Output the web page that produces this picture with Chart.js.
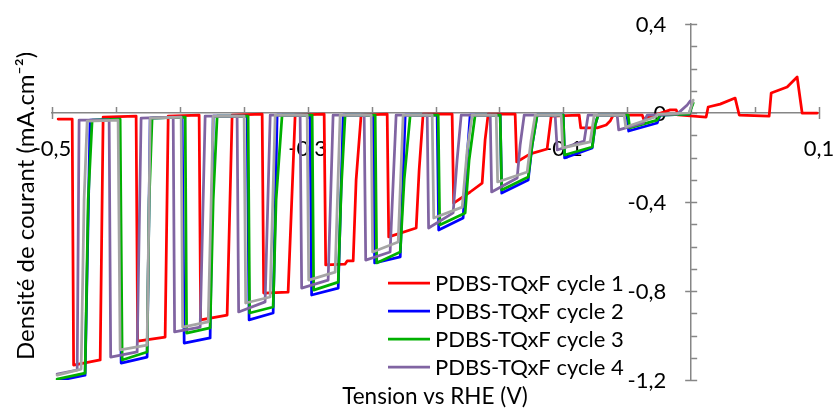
<!DOCTYPE html>
<html>
<head>
<meta charset="utf-8">
<script src="https://cdn.jsdelivr.net/npm/chart.js@4.4.1/dist/chart.umd.min.js"></script>
<style>
html,body{margin:0;padding:0;background:#ffffff;}
#wrap{position:relative;width:834px;height:412px;}
canvas{display:block;}
</style>
</head>
<body>
<div id="wrap"><canvas id="c" width="834" height="412"></canvas></div>
<script>
// ---------- data (potential in V vs RHE, current density in mA.cm-2) ----------
const seriesLabels = ['PDBS-TQxF cycle 1','PDBS-TQxF cycle 2','PDBS-TQxF cycle 3','PDBS-TQxF cycle 4',''];
const seriesColors = ['#FF0000','#0000FF','#00B000','#8064A2','#A5A5A5'];
const xTitle = 'Tension vs RHE (V)';
const yTitle = 'Densité de courant (mA.cm⁻²)';

const cycle1V = [-0.4952,-0.4842,-0.4831,-0.4623,-0.4600,-0.4342,-0.4330,-0.4115,-0.4091,-0.3849,-0.3837,-0.3630,-0.3591,-0.3356,-0.3344,-0.3153,-0.3098,-0.2871,-0.2859,-0.2707,-0.2691,-0.2644,-0.2621,-0.2582,-0.2378,-0.2366,-0.2151,-0.2128,-0.2097,-0.1870,-0.1858,-0.1729,-0.1635,-0.1612,-0.1588,-0.1377,-0.1365,-0.1259,-0.1127,-0.1095,-0.0876,-0.0864,-0.0735,-0.0665,-0.0634,-0.0610,-0.0383,-0.0372,-0.0164,-0.0117,-0.0102,0.0117,0.0133,0.0227,0.0344,0.0376,0.0610,0.0626,0.0751,0.0829,0.0868,0.0986];
const cycle1J = [-0.027,-0.027,-1.133,-1.110,-0.018,-0.014,-1.025,-1.007,-0.014,-0.009,-0.930,-0.908,-0.009,-0.005,-0.809,-0.805,-0.009,-0.005,-0.683,-0.679,-0.665,-0.665,-0.301,-0.009,-0.005,-0.557,-0.517,-0.256,-0.005,-0.005,-0.405,-0.355,-0.315,-0.121,-0.005,-0.005,-0.220,-0.184,-0.162,-0.014,-0.009,-0.067,-0.067,-0.054,-0.036,-0.009,-0.009,-0.027,0.014,0.014,-0.009,-0.018,0.027,0.040,0.067,-0.009,-0.014,0.090,0.117,0.162,0,0];

const cycle2V = [-0.4960,-0.4741,-0.4702,-0.4475,-0.4459,-0.4256,-0.4232,-0.3982,-0.3966,-0.3763,-0.3739,-0.3473,-0.3458,-0.3270,-0.3239,-0.2981,-0.2969,-0.2761,-0.2722,-0.2488,-0.2476,-0.2276,-0.2237,-0.1987,-0.1975,-0.1784,-0.1760,-0.1729,-0.1494,-0.1482,-0.1275,-0.1244,-0.1205,-0.1001,-0.0990,-0.0774,-0.0751,-0.0728,-0.0501,-0.0489,-0.0266,-0.0243,-0.0016,0.0008];
const cycle2J = [-1.204,-1.178,-0.032,-0.027,-1.124,-1.097,-0.023,-0.018,-1.034,-1.011,-0.014,-0.014,-0.930,-0.899,-0.009,-0.009,-0.818,-0.787,-0.009,-0.009,-0.674,-0.647,-0.009,-0.009,-0.526,-0.472,-0.256,-0.009,-0.009,-0.360,-0.301,-0.144,-0.009,-0.009,-0.202,-0.157,-0.054,-0.009,-0.009,-0.081,-0.045,-0.009,-0.005,0.040];

const cycle3V = [-0.4960,-0.4741,-0.4717,-0.4686,-0.4467,-0.4451,-0.4256,-0.4240,-0.4217,-0.3958,-0.3947,-0.3763,-0.3739,-0.3708,-0.3466,-0.3454,-0.3270,-0.3247,-0.3200,-0.2965,-0.2953,-0.2761,-0.2738,-0.2707,-0.2472,-0.2460,-0.2276,-0.2245,-0.2198,-0.1979,-0.1967,-0.1768,-0.1737,-0.1690,-0.1494,-0.1482,-0.1275,-0.1244,-0.1205,-0.1001,-0.0990,-0.0774,-0.0751,-0.0728,-0.0493,-0.0481,-0.0266,-0.0243,-0.0016,0.0016];
const cycle3J = [-1.196,-1.169,-0.391,-0.032,-0.027,-1.110,-1.074,-0.391,-0.023,-0.018,-0.989,-0.966,-0.391,-0.014,-0.014,-0.899,-0.872,-0.391,-0.009,-0.009,-0.796,-0.760,-0.346,-0.009,-0.009,-0.674,-0.625,-0.301,-0.009,-0.009,-0.503,-0.449,-0.211,-0.009,-0.009,-0.346,-0.288,-0.144,-0.009,-0.009,-0.189,-0.153,-0.054,-0.009,-0.009,-0.067,-0.032,-0.009,-0.005,0.045];

const cycle4V = [-0.4960,-0.4803,-0.4788,-0.4553,-0.4541,-0.4334,-0.4303,-0.4052,-0.4041,-0.3841,-0.3802,-0.3552,-0.3540,-0.3333,-0.3293,-0.3059,-0.3047,-0.2840,-0.2801,-0.2558,-0.2546,-0.2355,-0.2308,-0.2065,-0.2054,-0.1862,-0.1831,-0.1799,-0.1572,-0.1561,-0.1361,-0.1338,-0.1306,-0.1064,-0.1048,-0.0837,-0.0806,-0.0579,-0.0567,-0.0376,-0.0344,-0.0110,-0.0031,-0.0008];
const cycle4J = [-1.173,-1.155,-0.032,-0.032,-1.097,-1.074,-0.023,-0.018,-0.984,-0.962,-0.014,-0.014,-0.894,-0.849,-0.009,-0.009,-0.787,-0.751,-0.009,-0.009,-0.661,-0.625,-0.009,-0.009,-0.517,-0.449,-0.211,-0.009,-0.009,-0.355,-0.292,-0.144,-0.009,-0.009,-0.166,-0.126,-0.009,-0.009,-0.076,-0.045,-0.009,-0.005,0.036,0.054];

const cycle5V = [-0.4960,-0.4772,-0.4749,-0.4725,-0.4483,-0.4467,-0.4256,-0.4232,-0.3990,-0.3978,-0.3778,-0.3739,-0.3497,-0.3485,-0.3294,-0.3254,-0.3004,-0.2992,-0.2785,-0.2746,-0.2503,-0.2492,-0.2292,-0.2253,-0.2026,-0.2014,-0.1791,-0.1752,-0.1713,-0.1525,-0.1514,-0.1283,-0.1252,-0.1220,-0.1017,-0.1005,-0.0790,-0.0759,-0.0524,-0.0512,-0.0282,-0.0258,-0.0016,0.0016];
const cycle5J = [-1.178,-1.151,-0.391,-0.036,-0.032,-1.065,-1.043,-0.023,-0.018,-0.962,-0.939,-0.014,-0.014,-0.854,-0.827,-0.009,-0.009,-0.751,-0.715,-0.009,-0.009,-0.625,-0.580,-0.009,-0.009,-0.472,-0.423,-0.166,-0.009,-0.009,-0.310,-0.265,-0.121,-0.009,-0.009,-0.157,-0.130,-0.009,-0.009,-0.063,-0.018,-0.005,0,0.058];

const xMin = -0.5, xMax = 0.1, xStep = 0.05;
const yMin = -1.2, yMax = 0.4, yStep = 0.1;
const xLabelValues = [-0.5, -0.3, -0.1, 0.1];
const yLabelValues = [0.4, 0, -0.4, -0.8, -1.2];

// ---------- build ----------
const allV = [cycle1V, cycle2V, cycle3V, cycle4V, cycle5V];
const allJ = [cycle1J, cycle2J, cycle3J, cycle4J, cycle5J];
const FONT = 'Lato, "Open Sans", sans-serif';
const FS = 22;
const AXIS = '#868686';

function zip(v, j) { return v.map((x, i) => ({x: x, y: j[i]})); }
function near(v, list) { return list.some(t => Math.abs(t - v) < 1e-6); }
function fmt(v) { return Math.abs(v) < 1e-9 ? '0' : v.toFixed(1).replace('.', ','); }
function noPad(s) { s.paddingLeft = 0; s.paddingRight = 0; s.paddingTop = 0; s.paddingBottom = 0; }

const datasets = allV.map((v, i) => ({
  label: seriesLabels[i],
  data: zip(v, allJ[i]),
  borderColor: seriesColors[i],
  backgroundColor: seriesColors[i],
  borderWidth: 2.75,
  pointRadius: 0,
  tension: 0,
  fill: false,
  borderJoinStyle: 'round',
  borderCapStyle: 'round',
  order: 5 - i
}));

const decor = {
  id: 'decor',
  beforeDatasetsDraw(chart) {
    const {ctx, scales: {x, y}} = chart;
    const x0 = x.getPixelForValue(0), y0 = y.getPixelForValue(0);
    const L = 6;
    ctx.save();
    ctx.strokeStyle = AXIS; ctx.lineWidth = 1.5;
    x.ticks.forEach(t => {
      const px = Math.round(x.getPixelForValue(t.value)) + 0.5;
      const major = near(t.value, xLabelValues);
      ctx.beginPath(); ctx.moveTo(px, y0 - L); ctx.lineTo(px, major ? y0 + L : y0); ctx.stroke();
    });
    y.ticks.forEach(t => {
      const py = Math.round(y.getPixelForValue(t.value)) + 0.5;
      const major = near(t.value, yLabelValues);
      ctx.beginPath(); ctx.moveTo(major ? x0 - L : x0, py); ctx.lineTo(x0 + L, py); ctx.stroke();
    });
    // y tick labels (left of the y axis that crosses at x = 0)
    ctx.fillStyle = '#000';
    ctx.font = FS + 'px ' + FONT;
    ctx.textAlign = 'right'; ctx.textBaseline = 'middle';
    y.ticks.forEach(t => {
      if (!near(t.value, yLabelValues)) return;
      ctx.fillText(fmt(t.value), x0 - 25, y.getPixelForValue(t.value) + 1);
    });
    ctx.restore();
  },
  afterDraw(chart) {
    const ctx = chart.ctx;
    ctx.save();
    ctx.fillStyle = '#000';
    ctx.textAlign = 'center'; ctx.textBaseline = 'middle';
    ctx.font = '22.5px ' + FONT;
    ctx.fillText(xTitle, 435, 397);
    ctx.translate(26, 206); ctx.rotate(-Math.PI / 2);
    ctx.font = '24px ' + FONT;
    ctx.fillText(yTitle, 0, 0);
    ctx.restore();
    // legend
    ctx.save();
    ctx.font = FS + 'px ' + FONT;
    ctx.textAlign = 'left'; ctx.textBaseline = 'middle';
    const rows = [283, 311, 339, 367];
    for (let i = 0; i < 4; i++) {
      ctx.strokeStyle = seriesColors[i]; ctx.lineWidth = 2.75;
      ctx.beginPath(); ctx.moveTo(388, rows[i]); ctx.lineTo(430, rows[i]); ctx.stroke();
      ctx.fillStyle = '#000';
      ctx.fillText(seriesLabels[i], 435, rows[i] + 1);
    }
    ctx.restore();
  }
};

new Chart(document.getElementById('c'), {
  type: 'line',
  data: { datasets },
  options: {
    responsive: false,
    animation: false,
    devicePixelRatio: 1,
    layout: { padding: { left: 52, right: 15, top: 24, bottom: 32 } },
    plugins: { legend: { display: false }, tooltip: { enabled: false }, title: { display: false } },
    scales: {
      x: {
        type: 'linear', min: xMin, max: xMax, position: { y: 0 },
        afterFit: noPad,
        ticks: {
          stepSize: xStep, autoSkip: false, maxRotation: 0, padding: 23,
          color: '#000', font: { family: FONT, size: FS },
          callback: v => near(v, xLabelValues) ? fmt(v) : ''
        },
        grid: { drawOnChartArea: false, drawTicks: false },
        border: { display: true, color: AXIS, width: 1.5 }
      },
      y: {
        type: 'linear', min: yMin, max: yMax, position: { x: 0 },
        afterFit: noPad,
        ticks: {
          stepSize: yStep, autoSkip: false, padding: 22,
          color: '#000', font: { family: FONT, size: FS },
          callback: () => ''
        },
        grid: { drawOnChartArea: false, drawTicks: false },
        border: { display: true, color: AXIS, width: 1.5 }
      }
    }
  },
  plugins: [decor]
});
</script>
</body>
</html>
